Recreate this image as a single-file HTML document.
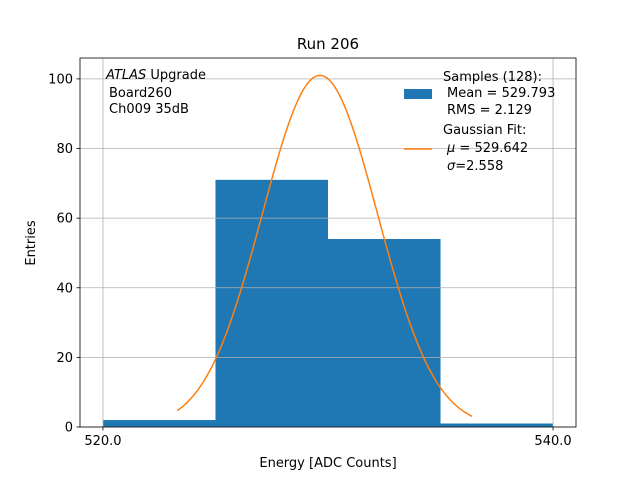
<!DOCTYPE html>
<html><head><meta charset="utf-8"><style>
body{margin:0;background:#fff;font-family:"Liberation Sans","DejaVu Sans",sans-serif}
svg text{font-family:"DejaVu Sans","Liberation Sans",sans-serif}
</style></head><body>
<svg id="c" width="640" height="480" xmlns="http://www.w3.org/2000/svg"></svg>
<script>
const binEdges=[520,525,530,535,540];
const counts=[2,71,54,1];
const xTicks=[520,540];
const xTickLabels=["520.0","540.0"];
const yTicks=[0,20,40,60,80,100];
const fitParams=[101,529.642,2.558];
const fitRange=[523.3,536.4];
const L=80,R=576,T=58,B=427,x0=518.98,x1=541.02,y0=0,y1=106;
const X=v=>L+(v-x0)/(x1-x0)*(R-L);
const Y=v=>B-(v-y0)/(y1-y0)*(B-T);
const svg=document.getElementById('c');
const NS='http://www.w3.org/2000/svg';
function mk(tag,attrs,txt){const e=document.createElementNS(NS,tag);for(const k in attrs)e.setAttribute(k,attrs[k]);if(txt!=null)e.textContent=txt;svg.appendChild(e);return e;}
// bars
counts.forEach((c,i)=>{const r=mk('rect',{x:X(binEdges[i]),y:Y(c),width:X(binEdges[i+1])-X(binEdges[i]),height:Y(0)-Y(c),fill:'#1f77b4'});

});
// grid
xTicks.forEach((t,i)=>{const g=mk('line',{x1:X(t),x2:X(t),y1:T,y2:B,stroke:'#b0b0b0','stroke-width':0.8});

});
yTicks.forEach(t=>{const g=mk('line',{x1:L,x2:R,y1:Y(t),y2:Y(t),stroke:'#b0b0b0','stroke-width':0.8});

});
// fit
let d='';const n=200;
for(let i=0;i<=n;i++){const v=fitRange[0]+(fitRange[1]-fitRange[0])*i/n;const f=fitParams[0]*Math.exp(-0.5*((v-fitParams[1])/fitParams[2])**2);d+=(i?'L':'M')+X(v).toFixed(2)+','+Y(f).toFixed(2);}
const p=mk('path',{d:d,fill:'none',stroke:'#ff7f0e','stroke-width':1.5});


// frame
const fr=mk('rect',{x:L,y:T,width:R-L,height:B-T,fill:'none',stroke:'#000','stroke-width':0.8});


// ticks
xTicks.forEach((t,i)=>{mk('line',{x1:X(t),x2:X(t),y1:B,y2:B+3.5,stroke:'#000','stroke-width':0.8});
const tx=mk('text',{x:X(t),y:B+18,'text-anchor':'middle','font-size':13},xTickLabels[i]);

});
yTicks.forEach(t=>{mk('line',{x1:L-3.5,x2:L,y1:Y(t),y2:Y(t),stroke:'#000','stroke-width':0.8});
const tx=mk('text',{x:L-7,y:Y(t)+4.5,'text-anchor':'end','font-size':13},String(t));

});
</script>
<svg width="640" height="480" style="position:absolute;left:0;top:0" xmlns="http://www.w3.org/2000/svg">
<text x="328" y="49" text-anchor="middle" font-size="15">Run 206</text>
<text x="328" y="467" text-anchor="middle" font-size="13">Energy [ADC Counts]</text>
<text x="35" y="243" text-anchor="middle" font-size="13" transform="rotate(-90 35 243)">Entries</text>
<g font-size="13">
<text x="106" y="79"><tspan font-style="italic">ATLAS</tspan> Upgrade</text>
<text x="109" y="97">Board260</text>
<text x="109" y="113">Ch009 35dB</text>
</g>
<g font-size="13">
<rect x="404" y="89" width="28" height="10" fill="#1f77b4"/>
<text x="443" y="81">Samples (128):</text>
<text x="447" y="97">Mean = 529.793</text>
<text x="447" y="114">RMS = 2.129</text>
<line x1="404" x2="432" y1="149" y2="149" stroke="#ff7f0e" stroke-width="1.5"/>
<text x="443" y="134">Gaussian Fit:</text>
<text x="447" y="152"><tspan font-style="italic">μ</tspan> = 529.642</text>
<text x="447" y="170"><tspan font-style="italic">σ</tspan>=2.558</text>
</g>
</svg>
</body></html>
